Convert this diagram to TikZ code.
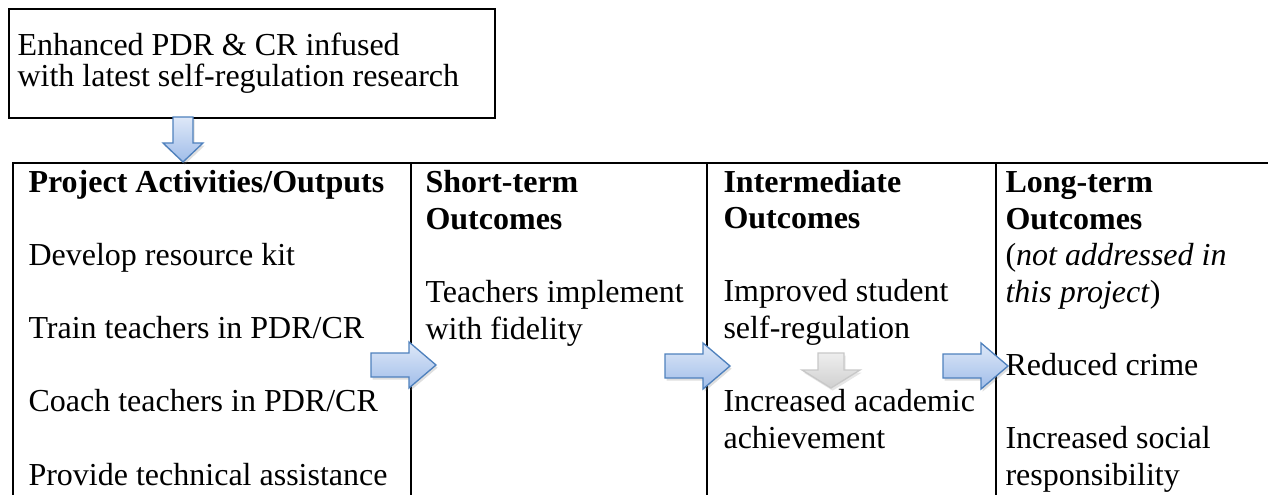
\documentclass[tikz,border=0pt]{standalone}
\usepackage{fontspec}
\setmainfont{Liberation Serif}
\usetikzlibrary{shadows}
\definecolor{arrowline}{RGB}{79,129,189}
\definecolor{arrowtop}{RGB}{222,232,248}
\definecolor{arrowbottom}{RGB}{160,189,233}
\definecolor{greyline}{RGB}{200,200,200}
\definecolor{greytop}{RGB}{238,238,238}
\definecolor{greybottom}{RGB}{208,208,208}
\tikzset{
    every node/.style={inner sep=0pt, align=left,
    	font=\fontsize{12}{13.7}\selectfont}
}
\tikzset{
    frame/.style={line width=0.75pt},
    blockarrow/.style={draw=arrowline, line width=0.5pt, top color=arrowtop,
    	bottom color=arrowbottom,
    	drop shadow={opacity=0.25, shadow xshift=0.6pt, shadow yshift=-1pt}},
    greyarrow/.style={draw=greyline, line width=0.5pt, top color=greytop,
    	bottom color=greybottom,
    	drop shadow={opacity=0.2, shadow xshift=0.6pt, shadow yshift=-1pt}}
}
\tikzset{
    pics/rightarrow/.style={code={
      \path[#1] (0,-12) -- (38,-12) -- (38,-23) -- (65,0) -- (38,23)
        -- (38,12) -- (0,12) -- cycle;}},
    pics/downarrow/.style={code={
      \path[#1] (-10,0) -- (10,0) -- (10,26) -- (20,26) -- (0,45)
        -- (-20,26) -- (-10,26) -- cycle;}},
    pics/widedownarrow/.style={code={
      \path[#1] (-13,0) -- (13,0) -- (13,17) -- (29,17) -- (0,35)
        -- (-29,17) -- (-13,17) -- cycle;}}
}

\begin{document}
\begin{tikzpicture}[x=0.375pt, y=-0.375pt]
  \useasboundingbox (0,0) rectangle (1268,495);

  \node (topbox) [draw, frame, anchor=north west, minimum width=182.25pt,
    minimum height=40.9pt] at (8,8) {};
  % base anchor sits on the last line
  \node (enhanced) [anchor=base west, font=\fontsize{12}{11.7}\selectfont]
    at (17,87) {Enhanced PDR \& CR infused\\with latest self-regulation research};

  % table frame
  \draw[frame] (13,500) -- (13,163) -- (1275,163);
  \foreach \x in {411,707,996}
    \draw[frame] (\x,163) -- (\x,500);

  \node (activities) [anchor=base west] at (28,485)
    {\textbf{Project Activities/Outputs}\\[13.7pt]
     Develop resource kit\\[13.7pt]
     Train teachers in PDR/CR\\[13.7pt]
     Coach teachers in PDR/CR\\[13.7pt]
     Provide technical assistance};
  \node (shortterm) [anchor=base west] at (425,339)
    {\textbf{Short-term}\\\textbf{Outcomes}\\[13.7pt]
     Teachers implement\\with fidelity};
  \node (intermediate) [anchor=base west] at (723,448)
    {\textbf{Intermediate}\\\textbf{Outcomes}\\[13.7pt]
     Improved student\\self-regulation\\[13.7pt]
     Increased academic\\achievement};
  \node (longterm) [anchor=base west] at (1005,485)
    {\textbf{Long-term}\\\textbf{Outcomes}\\
     (\textit{not addressed in}\\\textit{this project})\\[13.7pt]
     Reduced crime\\[13.7pt]
     Increased social\\responsibility};

  % block arrows
  \pic at (183,117) {downarrow=blockarrow};
  \pic at (371,365) {rightarrow=blockarrow};
  \pic at (665,366) {rightarrow=blockarrow};
  \pic at (943,366) {rightarrow=blockarrow};
  \pic at (831,353) {widedownarrow=greyarrow};
\end{tikzpicture}
\end{document}
